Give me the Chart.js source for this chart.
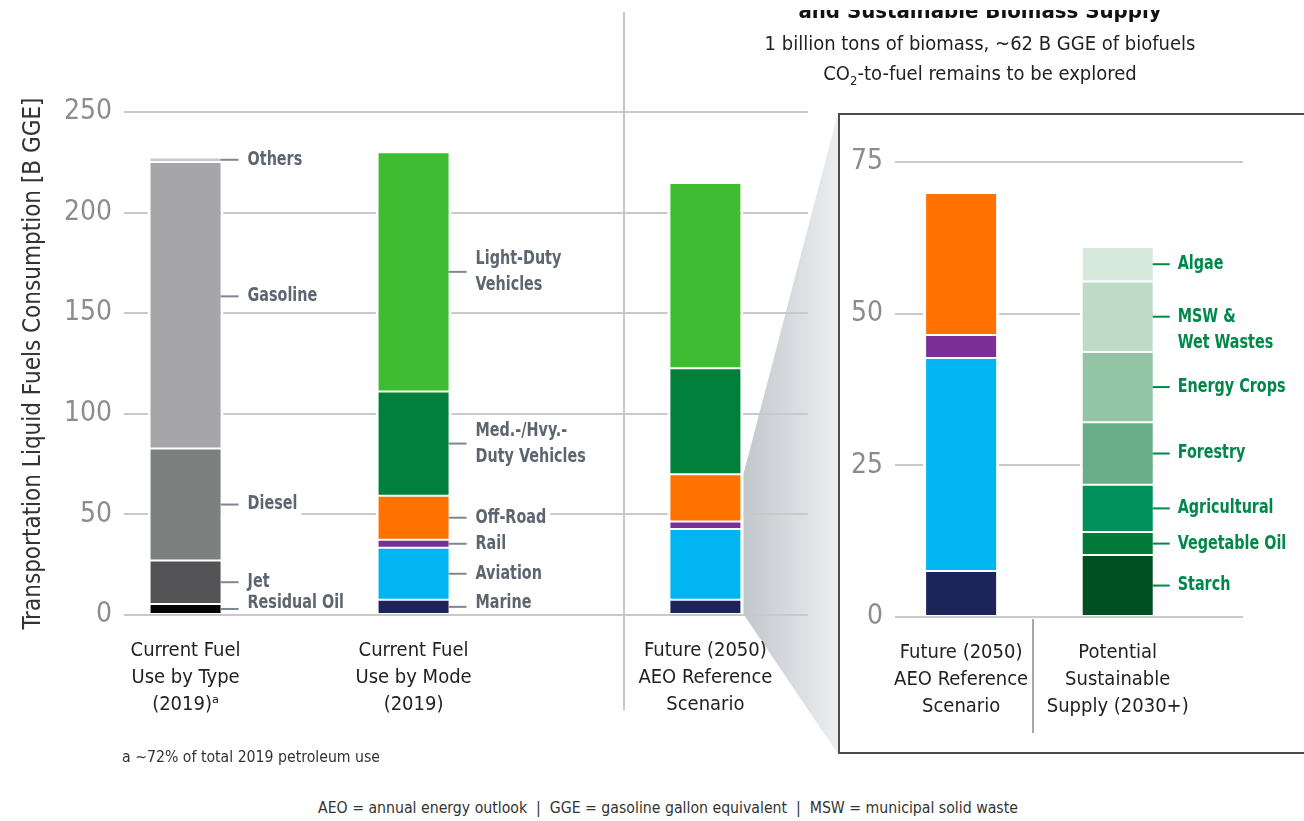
<!DOCTYPE html>
<html>
<head>
<meta charset="utf-8">
<script src="https://cdn.jsdelivr.net/npm/chart.js@4.4.1/dist/chart.umd.min.js"></script>
<style>
  html, body { margin: 0; padding: 0; background: #fff; }
  body {
    width: 1304px; height: 821px; position: relative; overflow: hidden;
    font-family: "Liberation Sans Narrow", "DejaVu Sans Condensed", sans-serif; color: #222;
  }
  #mainChart { position: absolute; left: 0; top: 0; }
  #insetBox {
    position: absolute; left: 838px; top: 113px; width: 480px; height: 637px;
    border: 2px solid #4d4d4d; background: #fff;
  }
  #insetChart { position: absolute; left: 0; top: 0; }
  .txt { position: absolute; white-space: nowrap; }
  .titleClip { position: absolute; left: 760px; top: 10px; width: 440px; height: 20px; overflow: hidden; }
  .title { position: absolute; left: 0; width: 440px; top: -10px; line-height: 22px; text-align: center;
           font-size: 22px; font-weight: bold; color: #111; }
  .sub { left: 720px; width: 520px; text-align: center; font-size: 20px; color: #222; }
  .note { font-size: 15.7px; color: #333; }
</style>
</head>
<body>
<canvas id="mainChart" width="840" height="760"></canvas>
<div id="insetBox"><canvas id="insetChart" width="470" height="635"></canvas></div>

<div class="titleClip"><div class="title">and Sustainable Biomass Supply</div></div>
<div class="txt sub" style="top:31px">1 billion tons of biomass, ~62 B GGE of biofuels</div>
<div class="txt sub" style="top:61px">CO<sub style="font-size:13px">2</sub>-to-fuel remains to be explored</div>
<div class="txt note" style="left:122px; top:747px">a ~72% of total 2019 petroleum use</div>
<div class="txt note" style="left:318px; top:798px">AEO = annual energy outlook&nbsp; |&nbsp; GGE = gasoline gallon equivalent&nbsp; |&nbsp; MSW = municipal solid waste</div>

<script>
const FONT = '"Liberation Sans Narrow", "DejaVu Sans Condensed", sans-serif';

// ─── Data (B GGE) ─────────────────────────────────────────────────────────────
const typeNames  = ['Residual Oil', 'Jet', 'Diesel', 'Gasoline', 'Others'];
const typeValues = [5.5, 21.6, 55.6, 142.4, 2.3];

const modeNames  = ['Marine', 'Aviation', 'Rail', 'Off-Road', 'Med.-/Hvy.-\nDuty Vehicles', 'Light-Duty\nVehicles'];
const mode2019   = [7.6, 25.8, 4.0, 21.9, 51.8, 118.9];
const mode2050   = [7.6, 35.1, 3.8, 23.4, 52.8, 92.0];

const feedNames  = ['Starch', 'Vegetable Oil', 'Agricultural', 'Forestry', 'Energy Crops', 'MSW &\nWet Wastes', 'Algae'];
const feedValues = [10.2, 3.8, 7.8, 10.3, 11.6, 11.6, 5.7];

const mainCategories  = [['Current Fuel', 'Use by Type', '(2019)ᵃ'], ['Current Fuel', 'Use by Mode', '(2019)'], ['Future (2050)', 'AEO Reference', 'Scenario']];
const insetCategories = [['Future (2050)', 'AEO Reference', 'Scenario'], ['Potential', 'Sustainable', 'Supply (2030+)']];
const mainTicks  = [0, 50, 100, 150, 200, 250];
const insetTicks = [0, 25, 50, 75];

// ─── Styling / layout ─────────────────────────────────────────────────────────
const typeColors = ['#050505', '#545457', '#7c807f', '#a6a6a9', '#c3cad3'];
const modeColors = ['#1d2459', '#00b5f1', '#7a2f97', '#ff7200', '#00803b', '#3fbc31'];
const feedColors = ['#004f23', '#007a39', '#00905b', '#67ae89', '#93c4a6', '#bedbc8', '#d5e8db'];
const mainSlots  = [0.54, 2.54, 5.1];   // bar centres on the 0..6 x range
const mainDivider = 4.39;
const insetSlots = [0.76, 2.56];        // bar centres on the 0..4 x range
const insetDivider = 1.586;
const GRID = '#c9c9c9';
const LABEL_SQUEEZE = 0.84;             // condensed look for the segment labels

const barStyle = {
    borderColor: '#fff',
    borderWidth: { top: 1, bottom: 1, left: 3, right: 3 },
    borderSkipped: false,
    inflateAmount: 0,
    barThickness: 76
};

function stackSet(label, points, color) {
    return Object.assign({ label, data: points, backgroundColor: color, stack: 's' }, barStyle);
}

// ─── Plugins ──────────────────────────────────────────────────────────────────
// leader line + label next to each stacked segment
const segmentLabels = {
    id: 'segmentLabels',
    afterDatasetsDraw(chart, args, opts) {
        if (!opts.items) return;
        const { ctx, chartArea } = chart;
        ctx.save();
        ctx.font = `${opts.weight} ${opts.size}px ${FONT}`;
        ctx.textBaseline = 'middle';
        ctx.textAlign = 'left';
        opts.items.forEach(it => {
            const el = chart.getDatasetMeta(it.ds).data[it.bar];
            const edge = el.x + el.width / 2 - 3;
            const yLead = (el.y + el.base) / 2 + (it.nudge || 0);
            const lines = chart.data.datasets[it.ds].label.split('\n');
            const lh = opts.lineHeight;
            let yText = opts.anchor === 'first' ? yLead : yLead - (lines.length - 1) * lh / 2;
            yText = Math.min(yText, chartArea.bottom - 12 - (lines.length - 1) * lh);
            const tx = edge + opts.gap;
            const w = Math.max(...lines.map(l => ctx.measureText(l).width)) * LABEL_SQUEEZE;
            let right = tx + w + 4;
            if (opts.boxToRight) right = Math.max(right, chartArea.right + 2);
            const top = yText - opts.size / 2 - 3;
            const bottom = Math.min(yText + (lines.length - 1) * lh + opts.size / 2 + 3, chartArea.bottom - 2);
            ctx.fillStyle = '#fff';
            ctx.fillRect(edge + 3, top, right - edge - 3, bottom - top);
            ctx.strokeStyle = opts.leader;
            ctx.lineWidth = 2;
            ctx.beginPath();
            ctx.moveTo(edge, yLead);
            ctx.lineTo(edge + opts.lead, yLead);
            ctx.stroke();
            ctx.fillStyle = opts.color;
            lines.forEach((l, k) => {
                ctx.save();
                ctx.translate(tx, yText + k * lh);
                ctx.scale(LABEL_SQUEEZE, 1);
                ctx.fillText(l, 0, 0);
                ctx.restore();
            });
        });
        ctx.restore();
    }
};

// vertical divider between groups of bars
const divider = {
    id: 'divider',
    beforeDatasetsDraw(chart, args, opts) {
        if (opts.at == null) return;
        const { ctx } = chart;
        const x = Math.round(chart.scales.x.getPixelForValue(opts.at));
        ctx.save();
        ctx.strokeStyle = opts.color;
        ctx.lineWidth = 2;
        ctx.beginPath();
        ctx.moveTo(x, opts.from(chart));
        ctx.lineTo(x, opts.to(chart));
        ctx.stroke();
        ctx.restore();
    }
};

// shaded wedge linking the 2050 non-light-duty segments to the inset panel
const zoomWedge = {
    id: 'zoomWedge',
    beforeDraw(chart, args, opts) {
        if (!opts.enabled) return;
        const { ctx } = chart;
        const topEl = chart.getDatasetMeta(typeNames.length + 3).data[1];
        const lowEl = chart.getDatasetMeta(typeNames.length).data[1];
        const x0 = topEl.x + topEl.width / 2;
        const box = document.getElementById('insetBox');
        const bx = box.offsetLeft, by = box.offsetTop, bb = box.offsetTop + box.offsetHeight;
        const g = ctx.createLinearGradient(x0, 0, bx, 0);
        g.addColorStop(0, '#c2c7cc');
        g.addColorStop(1, '#eceef0');
        ctx.save();
        ctx.fillStyle = g;
        ctx.beginPath();
        ctx.moveTo(x0, topEl.y);
        ctx.lineTo(bx, by);
        ctx.lineTo(bx, bb);
        ctx.lineTo(x0, lowEl.base);
        ctx.closePath();
        ctx.fill();
        ctx.restore();
    }
};

Chart.register(segmentLabels, divider, zoomWedge);

function axes(cfg) {
    return {
        x: {
            type: 'linear', stacked: true, offset: false, min: 0, max: cfg.xMax,
            afterBuildTicks: s => { s.ticks = cfg.slots.map(v => ({ value: v })); },
            afterFit: s => { s.height = cfg.xHeight; },
            ticks: {
                callback: (v, i) => cfg.categories[i],
                font: { size: 20, family: FONT, lineHeight: 1.35 }, color: '#222',
                padding: 14, maxRotation: 0, autoSkip: false
            },
            grid: { display: false }, border: { display: false }
        },
        y: {
            stacked: true, min: 0, max: cfg.yMax,
            afterBuildTicks: s => { s.ticks = cfg.ticks.map(v => ({ value: v })); },
            afterFit: s => { s.width = cfg.yWidth; },
            ticks: { font: { size: 28, family: FONT }, color: '#8c8c8c', padding: 12 },
            grid: { color: GRID, lineWidth: 2, drawTicks: false },
            border: { display: false },
            title: cfg.title ? {
                display: true, text: cfg.title, color: '#333',
                font: { size: 24, family: FONT }, padding: { top: 19, bottom: 0 }
            } : { display: false }
        }
    };
}

// ─── Main chart ───────────────────────────────────────────────────────────────
const mainSets = [];
typeNames.forEach((n, i) => mainSets.push(stackSet(n, [{ x: mainSlots[0], y: typeValues[i] }], typeColors[i])));
modeNames.forEach((n, i) => mainSets.push(stackSet(n, [
    { x: mainSlots[1], y: mode2019[i] },
    { x: mainSlots[2], y: mode2050[i] }
], modeColors[i])));

const mainItems = [];
typeNames.forEach((n, i) => mainItems.push({ ds: i, bar: 0, nudge: n === 'Gasoline' ? -9 : 0 }));
modeNames.forEach((n, i) => mainItems.push({ ds: typeNames.length + i, bar: 0 }));

new Chart(document.getElementById('mainChart'), {
    type: 'bar',
    data: { datasets: mainSets },
    options: {
        responsive: false, animation: false,
        layout: { padding: { left: 0, top: 112, right: 32, bottom: 0 } },
        scales: axes({ xMax: 6, slots: mainSlots, categories: mainCategories, xHeight: 145,
                       yMax: 250, ticks: mainTicks, yWidth: 124,
                       title: 'Transportation Liquid Fuels Consumption [B GGE]' }),
        plugins: {
            legend: { display: false }, tooltip: { enabled: false },
            segmentLabels: { items: mainItems, size: 19, weight: 'bold', lineHeight: 26,
                             color: '#5d6670', leader: '#7d8791', gap: 27, lead: 18 },
            divider: { at: mainDivider, color: '#c6c6c6', from: () => 12, to: () => 710 },
            zoomWedge: { enabled: true }
        }
    }
});

// ─── Inset: 2050 non-LDV demand vs. sustainable biomass supply ───────────────
const insetSets = [];
modeNames.slice(0, 4).forEach((n, i) => insetSets.push(stackSet(n, [{ x: insetSlots[0], y: mode2050[i] }], modeColors[i])));
feedNames.forEach((n, i) => insetSets.push(stackSet(n, [{ x: insetSlots[1], y: feedValues[i] }], feedColors[i])));

const insetItems = feedNames.map((n, i) => ({ ds: 4 + i, bar: 0 }));

new Chart(document.getElementById('insetChart'), {
    type: 'bar',
    data: { datasets: insetSets },
    options: {
        responsive: false, animation: false,
        layout: { padding: { left: 0, top: 47, right: 67, bottom: 0 } },
        scales: axes({ xMax: 4, slots: insetSlots, categories: insetCategories, xHeight: 133,
                       yMax: 75, ticks: insetTicks, yWidth: 55 }),
        plugins: {
            legend: { display: false }, tooltip: { enabled: false },
            segmentLabels: { items: insetItems, size: 19, weight: 'bold', lineHeight: 26, anchor: 'first',
                             boxToRight: true, color: '#00884a', leader: '#00884a', gap: 25, lead: 17 },
            divider: { at: insetDivider, color: '#a8a8a8',
                       from: c => c.chartArea.bottom + 2, to: c => c.chartArea.bottom + 116 }
        }
    }
});
</script>
</body>
</html>
